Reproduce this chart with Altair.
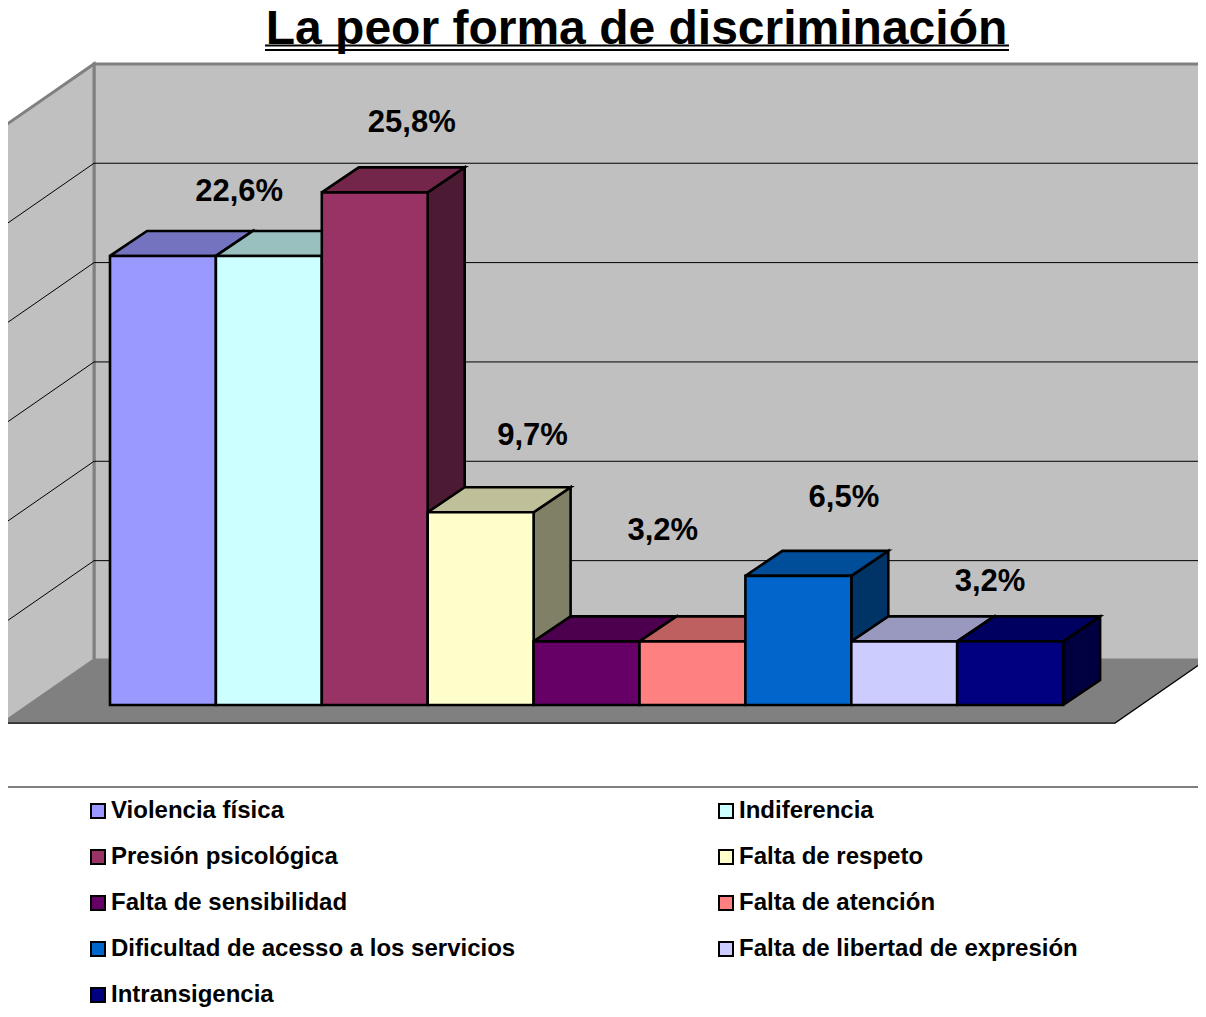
import altair as alt
import pandas as pd

categories = ["Violencia física", "Indiferencia", "Presión psicológica", "Falta de respeto",
              "Falta de sensibilidad", "Falta de atención", "Dificultad de acesso a los servicios",
              "Falta de libertad de expresión", "Intransigencia"]
values = [22.6, 22.6, 25.8, 9.7, 3.2, 3.2, 6.5, 3.2, 3.2]
front_colors = ["#9999FF", "#CCFFFF", "#993366", "#FFFFCC", "#660066", "#FF8080", "#0066CC", "#CCCCFF", "#000080"]
top_colors = ["#7373BF", "#99BFBF", "#732649", "#BFBF99", "#4D004D", "#BF6060", "#004D99", "#9999BF", "#000060"]
side_colors = ["#4D4D80", "#668080", "#4D1A33", "#808066", "#330033", "#804040", "#003366", "#666680", "#000040"]
label_texts = ["22,6%", "25,8%", "9,7%", "3,2%", "6,5%", "3,2%"]
label_x = [1.22, 2.85, 3.99, 5.22, 6.93, 8.31]
label_y = [25.8, 29.3, 13.55, 8.75, 10.4, 6.2]
chart_title = "La peor forma de discriminación"

W, H = 1190, 1001
X0, U = 102.0, 105.9
Y0, V = 697.0, 19.87
xs = alt.Scale(domain=[-X0 / U, (W - X0) / U], range=[0, W], nice=False, zero=False)
ys = alt.Scale(domain=[(Y0 - H) / V, Y0 / V], range=[H, 0], nice=False, zero=False)
X = alt.X("x:Q", scale=xs, axis=None)
Y = alt.Y("y:Q", scale=ys, axis=None)

dx, dy = 37 / U, 25 / V
back_l, back_r, back_b = -0.151, 10.35, 2.265
front_l, front_r, front_b = -1.01, 9.49, -0.91
axis_max = 30


def rows(face, color, pts):
    return [{"face": face, "fill": color, "seq": i, "x": p[0], "y": p[1]} for i, p in enumerate(pts)]


def poly(pts_rows, **kw):
    return alt.Chart(pd.DataFrame(pts_rows)).mark_line(interpolate="linear", **kw).encode(
        x=X, y=Y, detail="face:N", order="seq:Q", fill=alt.Fill("fill:N", scale=None, legend=None))


walls = rows("back", "#C0C0C0", [(back_l, back_b), (back_l, back_b + axis_max), (back_r, back_b + axis_max),
                                 (back_r, back_b), (back_l, back_b)])
walls += rows("side", "#C0C0C0", [(front_l, front_b), (front_l, front_b + axis_max), (back_l, back_b + axis_max),
                                  (back_l, back_b), (front_l, front_b)])
wall_layer = poly(walls, stroke="#808080", strokeWidth=3, strokeJoin="miter")

floor = rows("floor", "#808080", [(front_l, front_b), (back_l, back_b), (back_r, back_b), (front_r, front_b),
                                  (front_l, front_b)])
floor_layer = poly(floor, stroke="#808080", strokeWidth=0.5)
floor_edge = alt.Chart(pd.DataFrame([{"seq": 0, "x": front_l, "y": front_b}, {"seq": 1, "x": front_r, "y": front_b},
                                     {"seq": 2, "x": back_r, "y": back_b}])).mark_line(
    stroke="#000000", strokeWidth=1.2).encode(x=X, y=Y, order="seq:Q")

grid = []
for v in range(5, axis_max, 5):
    grid += [{"g": v, "seq": 0, "x": front_l, "y": front_b + v},
             {"g": v, "seq": 1, "x": back_l, "y": back_b + v},
             {"g": v, "seq": 2, "x": back_r, "y": back_b + v}]
grid_layer = alt.Chart(pd.DataFrame(grid)).mark_line(stroke="#000000", strokeWidth=1).encode(
    x=X, y=Y, detail="g:N", order="seq:Q")

faces = []
for i, v in enumerate(values):
    faces += rows(f"{i}s", side_colors[i], [(i + 1, 0), (i + 1 + dx, dy), (i + 1 + dx, v + dy), (i + 1, v), (i + 1, 0)])
    faces += rows(f"{i}t", top_colors[i], [(i, v), (i + dx, v + dy), (i + 1 + dx, v + dy), (i + 1, v), (i, v)])
face_layer = poly(faces, stroke="#000000", strokeWidth=2.6, strokeJoin="miter")

bars = pd.DataFrame({"cat": categories, "x": list(range(9)), "x2": [i + 1 for i in range(9)], "y": values})
front_layer = alt.Chart(bars).mark_rect(stroke="#000000", strokeWidth=2.6, opacity=1).encode(
    x=X, x2="x2:Q", y=Y, y2=alt.Y2(datum=0),
    fill=alt.Fill("cat:N", scale=alt.Scale(domain=categories, range=front_colors),
                  legend=alt.Legend(title=None, orient="none", legendX=78, legendY=790, direction="horizontal",
                                    columns=2, symbolType="square", symbolSize=196, symbolStrokeColor="#000000",
                                    symbolStrokeWidth=2, symbolOpacity=1, labelFont="Liberation Sans",
                                    labelFontSize=24, labelFontWeight="bold", labelColor="#000000",
                                    labelLimit=600, labelOffset=1, rowPadding=20, columnPadding=198,
                                    clipHeight=26)))

lab = pd.DataFrame({"t": label_texts, "x": label_x, "y": label_y})
label_layer = alt.Chart(lab).mark_text(font="Liberation Sans", fontSize=31, fontWeight="bold", color="#000000",
                                       baseline="middle", align="center").encode(x=X, y=Y, text="t:N")

one = pd.DataFrame({"t": [chart_title]})
title_layer = alt.Chart(one).mark_text(font="Liberation Sans", fontSize=48, fontWeight="bold", color="#000000",
                                       baseline="alphabetic", align="center").encode(
    x=alt.value(628.5), y=alt.value(36), text="t:N")
ul1 = alt.Chart(one).mark_rule(color="#000000", strokeWidth=2).encode(x=alt.value(257), x2=alt.value(1001), y=alt.value(37.5))
ul2 = alt.Chart(one).mark_rule(color="#000000", strokeWidth=2).encode(x=alt.value(257), x2=alt.value(1001), y=alt.value(42))
sep = alt.Chart(one).mark_rule(color="#808080", strokeWidth=2).encode(x=alt.value(0), x2=alt.value(W), y=alt.value(779))

chart = alt.layer(wall_layer, grid_layer, floor_layer, floor_edge, face_layer, front_layer, label_layer,
                  title_layer, ul1, ul2, sep).properties(
    width=W, height=H, padding=0, autosize=alt.AutoSizeParams(type="none"),
).resolve_scale(fill="independent").resolve_legend(fill="independent").configure_view(stroke=None)

chart.save("out.html", embed_options={"renderer": "svg", "actions": False})
